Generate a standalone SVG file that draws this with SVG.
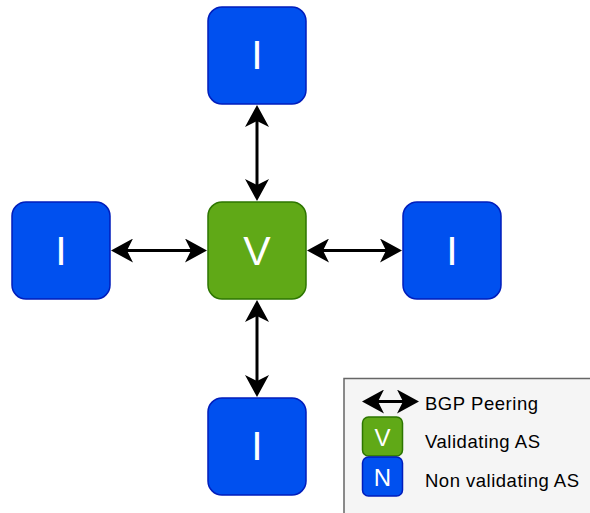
<svg xmlns="http://www.w3.org/2000/svg" width="590" height="513" viewBox="0 0 590 513">
  <style>
    .as-i { fill: #0050ef; stroke: #001dbc; stroke-width: 1.5; }
    .as-v { fill: #60a917; stroke: #2d7600; stroke-width: 1.5; }
    .label { fill: #ffffff; font-family: "Liberation Sans", Arial, sans-serif; text-anchor: middle; }
    .big { font-size: 41px; }
    .small { font-size: 24px; }
    .peer { stroke: #000000; stroke-width: 3; fill: none; marker-start: url(#head); marker-end: url(#head); }
    .legend-text { fill: #000000; font-family: "Liberation Sans", Arial, sans-serif; font-size: 18.5px; }
  </style>
  <defs>
    <marker id="head" markerUnits="userSpaceOnUse" viewBox="0 -12 22 24" markerWidth="22" markerHeight="24" refX="6" refY="0" orient="auto-start-reverse">
      <path d="M22,0 L0,-12 L6,0 L0,12 Z" fill="#000000"/>
    </marker>
  </defs>

  <rect width="590" height="513" fill="#ffffff"/>

  <!-- peering links -->
  <g id="connectors">
    <line class="peer" x1="257" y1="121" x2="257" y2="185"/>
    <line class="peer" x1="127" y1="250.5" x2="191" y2="250.5"/>
    <line class="peer" x1="323" y1="250.5" x2="386" y2="250.5"/>
    <line class="peer" x1="257" y1="316" x2="257" y2="381"/>
  </g>

  <g id="as-top">
    <rect class="as-i" x="208" y="7" width="98" height="97" rx="14"/>
    <text class="label big" x="257" y="69">I</text>
  </g>
  <g id="as-left">
    <rect class="as-i" x="12" y="202" width="98" height="97" rx="14"/>
    <text class="label big" x="61" y="265">I</text>
  </g>
  <g id="as-center">
    <rect class="as-v" x="208" y="202" width="98" height="97" rx="14"/>
    <text class="label big" x="257" y="265">V</text>
  </g>
  <g id="as-right">
    <rect class="as-i" x="403" y="202" width="98" height="97" rx="14"/>
    <text class="label big" x="452" y="265">I</text>
  </g>
  <g id="as-bottom">
    <rect class="as-i" x="208" y="398" width="98" height="97" rx="14"/>
    <text class="label big" x="257" y="460">I</text>
  </g>

  <!-- key -->
  <g id="legend">
    <rect x="344" y="378.5" width="260" height="150" fill="#f5f5f5" stroke="#666666" stroke-width="1.5"/>
    <line class="peer" x1="378" y1="401.5" x2="403" y2="401.5"/>
    <text class="legend-text" x="425" y="410" textLength="113" lengthAdjust="spacing">BGP Peering</text>
    <rect class="as-v" x="362.5" y="417" width="40" height="39" rx="6"/>
    <text class="label small" x="382.5" y="446">V</text>
    <text class="legend-text" x="425" y="448" textLength="115" lengthAdjust="spacing">Validating AS</text>
    <rect class="as-i" x="362.5" y="457" width="40" height="39" rx="6"/>
    <text class="label small" x="382.5" y="486">N</text>
    <text class="legend-text" x="425" y="487" textLength="154" lengthAdjust="spacing">Non validating AS</text>
  </g>
</svg>
